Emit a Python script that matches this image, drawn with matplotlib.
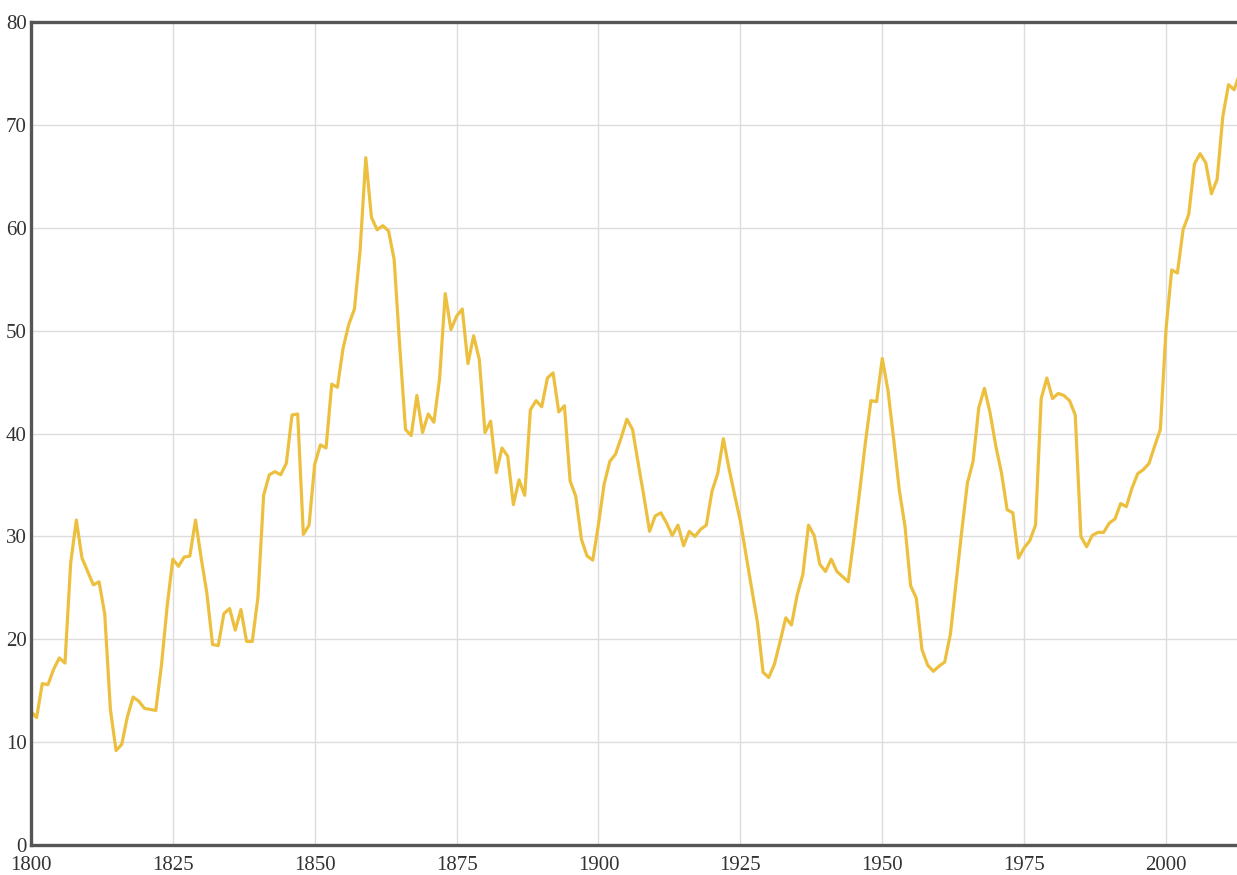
import matplotlib
matplotlib.use("Agg")
import matplotlib.pyplot as plt

# yearly series, 1800 onward
years = list(range(1800, 2014))
values = [
    13.0, 12.4, 15.7, 15.6, 17.1, 18.2, 17.7, 27.4, 31.6, 27.9,   # 1800s
    26.6, 25.3, 25.6, 22.5, 13.2, 9.2, 9.8, 12.5, 14.4, 14.0,     # 1810s
    13.3, 13.2, 13.1, 17.5, 23.2, 27.8, 27.1, 28.0, 28.1, 31.6,   # 1820s
    27.9, 24.5, 19.5, 19.4, 22.5, 23.0, 20.9, 22.9, 19.8, 19.8,   # 1830s
    24.1, 34.0, 36.0, 36.3, 36.0, 37.1, 41.8, 41.9, 30.2, 31.1,   # 1840s
    37.0, 38.9, 38.6, 44.8, 44.5, 48.3, 50.6, 52.1, 57.8, 66.8,   # 1850s
    61.0, 59.8, 60.2, 59.7, 56.9, 48.3, 40.4, 39.8, 43.7, 40.1,   # 1860s
    41.9, 41.1, 45.3, 53.6, 50.1, 51.4, 52.1, 46.8, 49.5, 47.2,   # 1870s
    40.1, 41.2, 36.2, 38.6, 37.8, 33.1, 35.5, 34.0, 42.3, 43.2,   # 1880s
    42.6, 45.4, 45.9, 42.1, 42.7, 35.4, 33.9, 29.7, 28.1, 27.7,   # 1890s
    31.2, 35.1, 37.3, 38.0, 39.6, 41.4, 40.4, 37.1, 33.9, 30.5,   # 1900s
    32.0, 32.3, 31.3, 30.1, 31.1, 29.1, 30.5, 30.0, 30.7, 31.1,   # 1910s
    34.4, 36.1, 39.5, 36.6, 34.0, 31.5, 28.2, 24.9, 21.7, 16.8,   # 1920s
    16.3, 17.6, 19.8, 22.1, 21.4, 24.3, 26.3, 31.1, 30.1, 27.3,   # 1930s
    26.6, 27.8, 26.6, 26.1, 25.6, 29.8, 34.3, 39.0, 43.2, 43.1,   # 1940s
    47.3, 44.2, 39.5, 34.5, 31.0, 25.2, 24.0, 19.0, 17.5, 16.9,   # 1950s
    17.4, 17.8, 20.5, 25.5, 30.5, 35.2, 37.3, 42.5, 44.4, 42.0,   # 1960s
    38.8, 36.2, 32.6, 32.3, 27.9, 28.9, 29.6, 31.1, 43.4, 45.4,   # 1970s
    43.4, 43.9, 43.7, 43.2, 41.8, 30.0, 29.0, 30.1, 30.4, 30.4,   # 1980s
    31.3, 31.7, 33.2, 32.9, 34.7, 36.1, 36.5, 37.1, 38.8, 40.4,   # 1990s
    50.2, 55.9, 55.6, 59.8, 61.3, 66.2, 67.2, 66.3, 63.3, 64.7,   # 2000s
    70.8, 73.9, 73.4, 75.0,                                       # 2010s
]

x_ticks = [1800, 1825, 1850, 1875, 1900, 1925, 1950, 1975, 2000]
y_ticks = [0, 10, 20, 30, 40, 50, 60, 70, 80]

plt.rcParams['font.family'] = ['Liberation Serif', 'DejaVu Serif']

fig = plt.figure(figsize=(12.37, 8.75), dpi=100)
ax = fig.add_axes([0.025, 0.034, 0.975, 0.941])

ax.plot(years, values, color="#ecc03e", linewidth=2.3, solid_joinstyle="round")

ax.set_xlim(1800, 2012.5)
ax.set_ylim(0, 80)
ax.set_xticks(x_ticks)
ax.set_yticks(y_ticks)
ax.tick_params(length=0, labelsize=15, colors="#333333")
ax.tick_params(axis="y", pad=3)
ax.tick_params(axis="x", pad=8)

ax.grid(True, color="#dcdcdc", linewidth=1.0)
ax.set_axisbelow(True)

for side in ["left", "bottom", "top"]:
    ax.spines[side].set_color("#555555")
    ax.spines[side].set_linewidth(2.4)
ax.spines["right"].set_visible(False)

fig.savefig("out.png", dpi=100)
